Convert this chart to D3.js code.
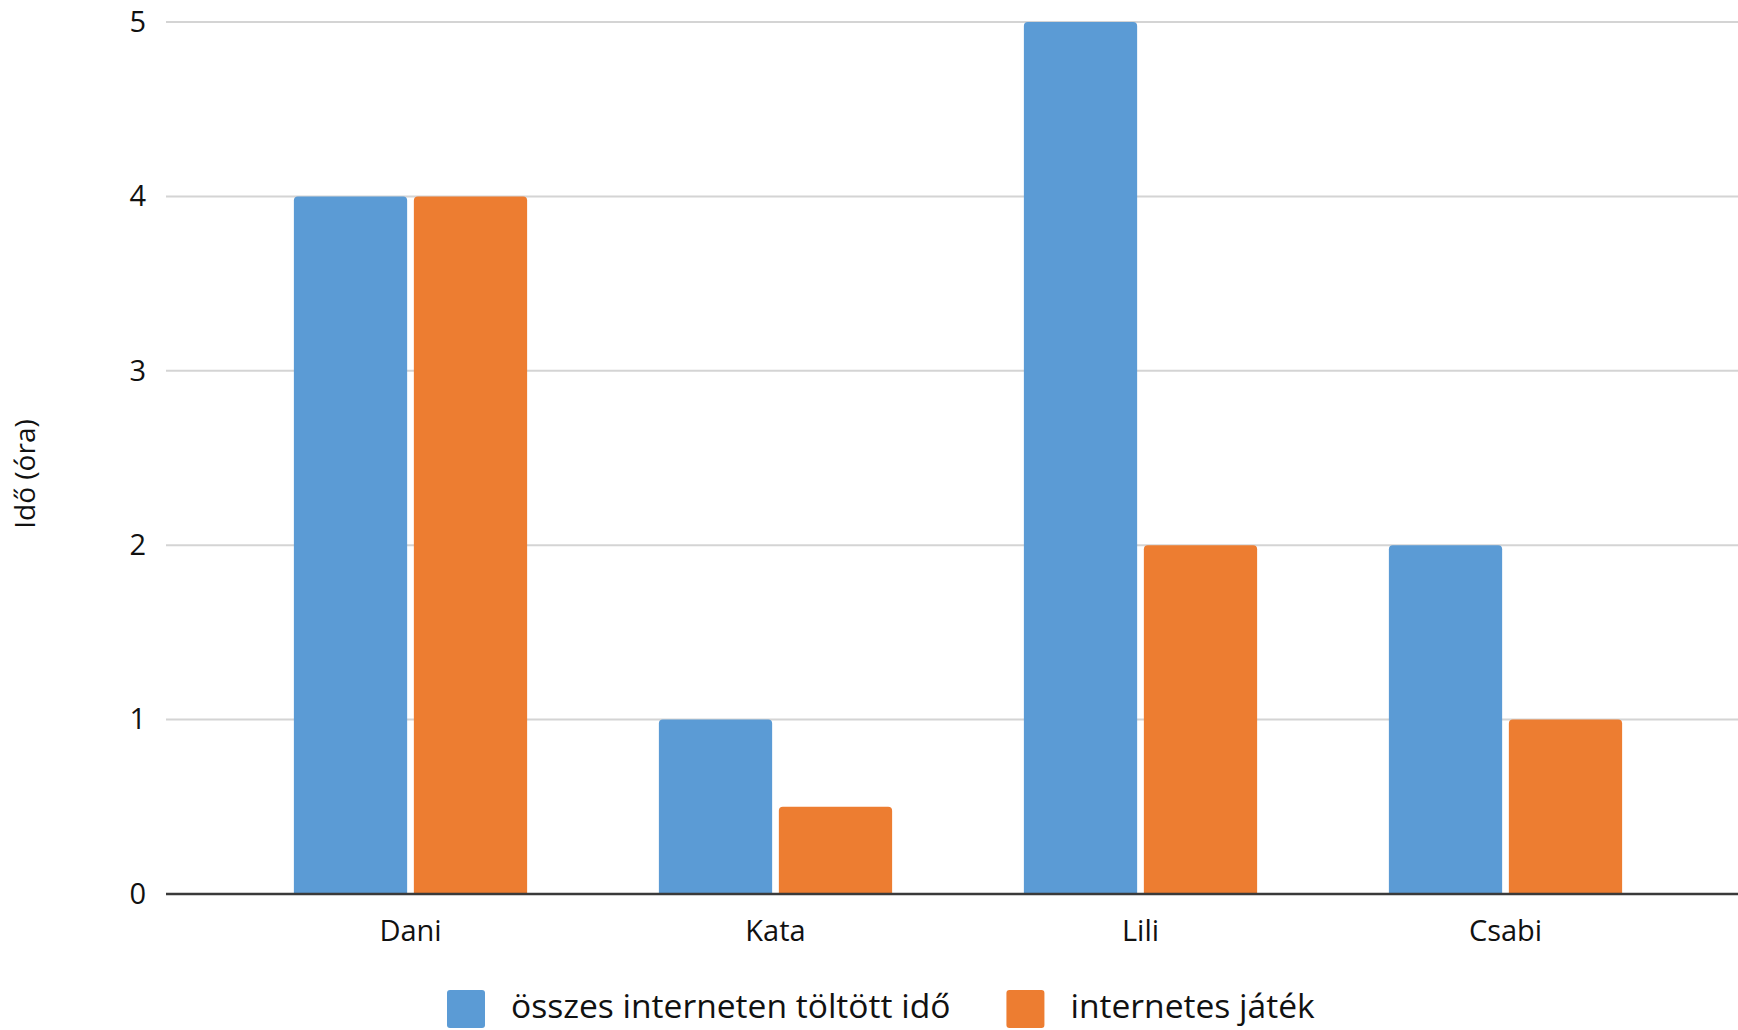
<!DOCTYPE html>
<html>
<head>
<meta charset="utf-8">
<script src="https://cdn.jsdelivr.net/npm/d3@7"></script>
<style>
  body { margin: 0; background: #fff; }
  text { font-family: "Open Sans", sans-serif; fill: #111; }
</style>
</head>
<body>
<div id="chart"></div>
<script>
// Adatok
const names = ["Dani", "Kata", "Lili", "Csabi"];
const seriesNames = ["összes interneten töltött idő", "internetes játék"];
const totalTime = [4, 1, 5, 2];
const gameTime = [4, 0.5, 2, 1];
const yTicks = [0, 1, 2, 3, 4, 5];
const colors = ["#5B9BD5", "#ED7D31"];

const W = 1738, H = 1030;
const svg = d3.select("#chart").append("svg")
    .attr("width", W)
    .attr("height", H);

// Skálák
const y = d3.scaleLinear().domain([0, 5]).range([894, 22]);

const x0 = d3.scaleBand()
    .domain(names)
    .range([228, 1688])
    .paddingInner(0.361)
    .paddingOuter(0.1805);

const x1 = d3.scaleBand()
    .domain([0, 1])
    .range([0, x0.bandwidth()])
    .paddingInner(0.056);

const gridLeft = 166, gridRight = W;

// Rácsvonalak
svg.append("g")
    .selectAll("line")
    .data(yTicks.filter(d => d > 0))
    .enter()
    .append("line")
    .attr("x1", gridLeft)
    .attr("x2", gridRight)
    .attr("y1", d => y(d))
    .attr("y2", d => y(d))
    .attr("stroke", "#d4d4d4")
    .attr("stroke-width", 2);

// Y tengely feliratai
const yAxis = svg.append("g")
    .attr("transform", `translate(${gridLeft},0)`)
    .call(d3.axisLeft(y).tickValues(yTicks).tickSize(0).tickPadding(20).tickFormat(d3.format("d")));
yAxis.select(".domain").remove();
yAxis.selectAll("text")
    .style("font-family", "Open Sans")
    .style("font-size", "29px")
    .style("fill", "#111");

// Oszlopok (lekerekített tetővel)
function topRoundedRect(x, yTop, w, h, r) {
    r = Math.min(r, h / 2, w / 2);
    return `M${x},${yTop + h}V${yTop + r}Q${x},${yTop} ${x + r},${yTop}` +
        `H${x + w - r}Q${x + w},${yTop} ${x + w},${yTop + r}V${yTop + h}Z`;
}

const rows = names.map((n, i) => ({ name: n, values: [totalTime[i], gameTime[i]] }));

const groups = svg.append("g")
    .selectAll("g")
    .data(rows)
    .enter()
    .append("g")
    .attr("transform", d => `translate(${x0(d.name)},0)`);

groups.selectAll("path")
    .data(d => d.values.map((v, k) => ({ k: k, v: v })))
    .enter()
    .append("path")
    .attr("d", d => topRoundedRect(x1(d.k), y(d.v), x1.bandwidth(), y(0) - y(d.v), 4))
    .attr("fill", d => colors[d.k]);

// X tengely vonal
svg.append("line")
    .attr("x1", gridLeft)
    .attr("x2", gridRight)
    .attr("y1", y(0))
    .attr("y2", y(0))
    .attr("stroke", "#3a3a3a")
    .attr("stroke-width", 2.5);

// X tengely feliratai
const xAxis = svg.append("g")
    .attr("transform", `translate(0,${y(0)})`)
    .call(d3.axisBottom(x0).tickSize(0).tickPadding(26));
xAxis.select(".domain").remove();
xAxis.selectAll("text")
    .style("font-family", "Open Sans")
    .style("font-size", "29px")
    .style("fill", "#111");

// Y tengely címe
svg.append("text")
    .attr("transform", "translate(28,474) rotate(-90)")
    .attr("text-anchor", "middle")
    .attr("dominant-baseline", "middle")
    .style("font-size", "28px")
    .text("Idő (óra)");

// Jelmagyarázat
const legend = svg.append("g");
let lx = 447;
const ly = 1009;
seriesNames.forEach((name, i) => {
    legend.append("rect")
        .attr("x", lx)
        .attr("y", ly - 19)
        .attr("width", 38)
        .attr("height", 38)
        .attr("rx", 3)
        .attr("fill", colors[i]);
    const t = legend.append("text")
        .attr("x", lx + 64)
        .attr("y", ly)
        .attr("dominant-baseline", "middle")
        .style("font-size", "33.6px")
        .text(name);
    lx += 64 + t.node().getComputedTextLength() + 56;
});
</script>
</body>
</html>
